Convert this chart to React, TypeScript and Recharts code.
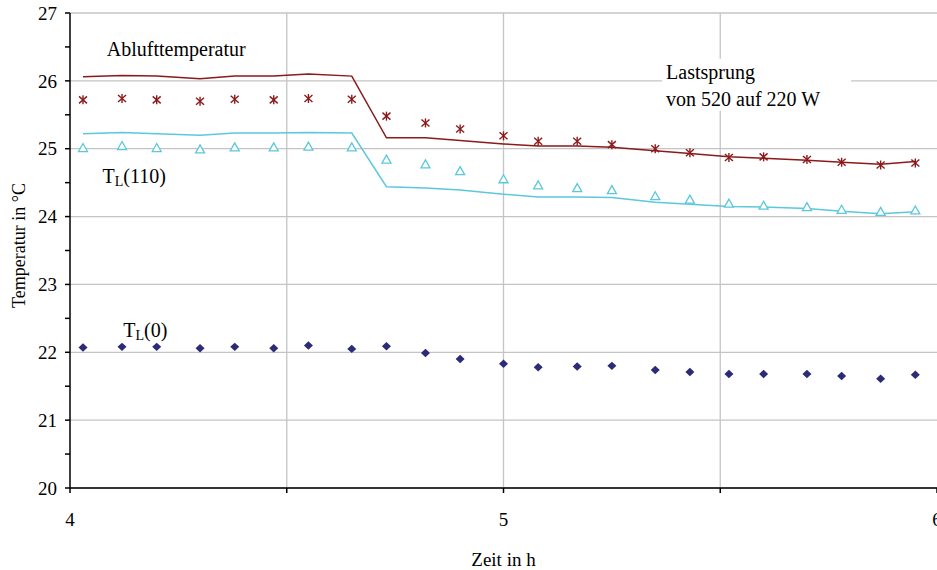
import { LineChart, Line, XAxis, YAxis, CartesianGrid, ReferenceDot, Label } from 'recharts';

const FONT = '"Liberation Serif", "Times New Roman", Times, serif';

// Zeitpunkte der Messwerte (h)
const zeit = [4.03, 4.12, 4.2, 4.3, 4.38, 4.47, 4.55, 4.65, 4.73, 4.82, 4.9, 5.0, 5.08, 5.17, 5.25, 5.35, 5.43, 5.52, 5.6, 5.7, 5.78, 5.87, 5.95];

// Ablufttemperatur: Modell (Linie) und Messung (Sterne)
const abluftModell = [26.06, 26.08, 26.07, 26.03, 26.07, 26.07, 26.1, 26.07, 25.16, 25.16, 25.12, 25.07, 25.04, 25.04, 25.02, 24.97, 24.93, 24.88, 24.86, 24.83, 24.8, 24.77, 24.81];
const abluftMessung = [25.72, 25.74, 25.72, 25.7, 25.73, 25.72, 25.74, 25.73, 25.48, 25.38, 25.29, 25.19, 25.11, 25.11, 25.06, 25.0, 24.94, 24.87, 24.88, 24.84, 24.8, 24.76, 24.79];

// T_L(110): Modell (Linie) und Messung (Dreiecke)
const tl110Modell = [25.22, 25.24, 25.22, 25.2, 25.23, 25.23, 25.24, 25.23, 24.44, 24.42, 24.39, 24.33, 24.29, 24.29, 24.28, 24.21, 24.18, 24.15, 24.14, 24.12, 24.08, 24.04, 24.07];
const tl110Messung = [25.01, 25.04, 25.01, 24.99, 25.02, 25.02, 25.03, 25.02, 24.84, 24.77, 24.67, 24.55, 24.46, 24.42, 24.39, 24.3, 24.25, 24.19, 24.16, 24.14, 24.1, 24.07, 24.09];

// T_L(0): Messung (Rauten)
const tl0Messung = [22.07, 22.08, 22.08, 22.06, 22.08, 22.06, 22.1, 22.05, 22.09, 21.99, 21.9, 21.83, 21.78, 21.79, 21.8, 21.74, 21.71, 21.68, 21.68, 21.68, 21.65, 21.61, 21.67];

const xTicks = [4, 4.5, 5, 5.5, 6];
const yTicks = [20, 20.5, 21, 21.5, 22, 22.5, 23, 23.5, 24, 24.5, 25, 25.5, 26, 26.5, 27];
const xGrid = [4.5, 5, 5.5];
const yGrid = [20, 21, 22, 23, 24, 25, 26, 27];

const daten = zeit.map((t, i) => ({
  zeit: t,
  abluftModell: abluftModell[i],
  abluftMessung: abluftMessung[i],
  tl110Modell: tl110Modell[i],
  tl110Messung: tl110Messung[i],
  tl0Messung: tl0Messung[i],
}));

const colors = {
  abluft: '#8b1a1a',
  tl110: '#5cc8dc',
  tl0: '#2b2b77',
  grid: '#c4c4c4',
  axis: '#000000',
};

const Stern = ({ cx, cy }: any) => (
  <g stroke={colors.abluft} strokeWidth={1.4}>
    <line x1={cx} y1={cy - 4.5} x2={cx} y2={cy + 4.5} />
    <line x1={cx - 4} y1={cy - 3.5} x2={cx + 4} y2={cy + 3.5} />
    <line x1={cx - 4} y1={cy + 3.5} x2={cx + 4} y2={cy - 3.5} />
  </g>
);

const Dreieck = ({ cx, cy }: any) => (
  <polygon
    points={`${cx},${cy - 4.5} ${cx - 4.5},${cy + 3.5} ${cx + 4.5},${cy + 3.5}`}
    fill="#ffffff"
    stroke={colors.tl110}
    strokeWidth={1.3}
  />
);

const Raute = ({ cx, cy }: any) => (
  <polygon
    points={`${cx},${cy - 4.2} ${cx + 4.5},${cy} ${cx},${cy + 4.2} ${cx - 4.5},${cy}`}
    fill={colors.tl0}
  />
);

const textStyle = { fontFamily: FONT, fontSize: 20, fill: '#000' };

const TLText = ({ cx, cy, arg }: any) => (
  <text x={cx} y={cy} style={textStyle}>
    T<tspan fontSize={14} dy={3}>L</tspan>
    <tspan dy={-3}>({arg})</tspan>
  </text>
);

export default function App() {
  return (
    <div style={{ position: 'absolute', left: 0, top: 0, background: '#fff' }}>
      <LineChart
        width={937}
        height={570}
        data={daten}
        margin={{ top: 13, right: 0, left: 0, bottom: 0 }}
      >
        <CartesianGrid
          stroke={colors.grid}
          strokeWidth={1.3}
          horizontalValues={yGrid}
          verticalValues={xGrid}
        />
        <XAxis
          dataKey="zeit"
          type="number"
          domain={[4, 6]}
          ticks={xTicks}
          interval={0}
          allowDataOverflow
          height={82}
          stroke={colors.axis}
          strokeWidth={1.5}
          tickSize={5}
          tickMargin={20}
          tick={{ fill: '#000', fontSize: 19, fontFamily: FONT }}
          tickFormatter={(v: number) => (Number.isInteger(v) ? String(v) : '')}
        >
          <Label
            content={({ viewBox }: any) => (
              <text
                x={viewBox.x + viewBox.width / 2}
                y={viewBox.y + 78}
                textAnchor="middle"
                style={{ fontFamily: FONT, fontSize: 19, fill: '#000' }}
              >
                Zeit in h
              </text>
            )}
          />
        </XAxis>
        <YAxis
          type="number"
          domain={[20, 27]}
          ticks={yTicks}
          interval={0}
          width={70}
          stroke={colors.axis}
          strokeWidth={1.5}
          tickSize={5}
          tickMargin={8}
          tick={{ fill: '#000', fontSize: 19, fontFamily: FONT }}
          tickFormatter={(v: number) => (Number.isInteger(v) ? String(v) : '')}
        >
          <Label
            content={({ viewBox }: any) => {
              const x = 25;
              const y = viewBox.y + viewBox.height / 2 - 5;
              return (
                <text
                  x={x}
                  y={y}
                  textAnchor="middle"
                  transform={`rotate(-90 ${x} ${y})`}
                  style={{ fontFamily: FONT, fontSize: 18, fill: '#000' }}
                >
                  Temperatur in °C
                </text>
              );
            }}
          />
        </YAxis>

        <Line
          type="linear"
          dataKey="abluftModell"
          stroke={colors.abluft}
          strokeWidth={1.5}
          dot={false}
          activeDot={false}
          isAnimationActive={false}
        />
        <Line
          type="linear"
          dataKey="tl110Modell"
          stroke={colors.tl110}
          strokeWidth={1.5}
          dot={false}
          activeDot={false}
          isAnimationActive={false}
        />
        <Line
          dataKey="abluftMessung"
          stroke="none"
          dot={(p: any) => <Stern key={`s${p.index}`} cx={p.cx} cy={p.cy} />}
          activeDot={false}
          isAnimationActive={false}
        />
        <Line
          dataKey="tl110Messung"
          stroke="none"
          dot={(p: any) => <Dreieck key={`d${p.index}`} cx={p.cx} cy={p.cy} />}
          activeDot={false}
          isAnimationActive={false}
        />
        <Line
          dataKey="tl0Messung"
          stroke="none"
          dot={(p: any) => <Raute key={`r${p.index}`} cx={p.cx} cy={p.cy} />}
          activeDot={false}
          isAnimationActive={false}
        />

        <ReferenceDot
          x={4.085}
          y={26.36}
          r={0}
          ifOverflow="visible"
          shape={(p: any) => (
            <text x={p.cx} y={p.cy} style={textStyle}>
              Ablufttemperatur
            </text>
          )}
        />
        <ReferenceDot
          x={5.375}
          y={26.03}
          r={0}
          ifOverflow="visible"
          shape={(p: any) => (
            <g>
              <rect x={p.cx - 4} y={p.cy - 20} width={189} height={52} fill="#fff" />
              <text x={p.cx} y={p.cy} style={textStyle}>
                Lastsprung
              </text>
              <text x={p.cx} y={p.cy + 27} style={textStyle}>
                von 520 auf 220 W
              </text>
            </g>
          )}
        />
        <ReferenceDot
          x={4.075}
          y={24.5}
          r={0}
          ifOverflow="visible"
          shape={(p: any) => <TLText cx={p.cx} cy={p.cy} arg="110" />}
        />
        <ReferenceDot
          x={4.123}
          y={22.23}
          r={0}
          ifOverflow="visible"
          shape={(p: any) => <TLText cx={p.cx} cy={p.cy} arg="0" />}
        />
      </LineChart>
    </div>
  );
}
